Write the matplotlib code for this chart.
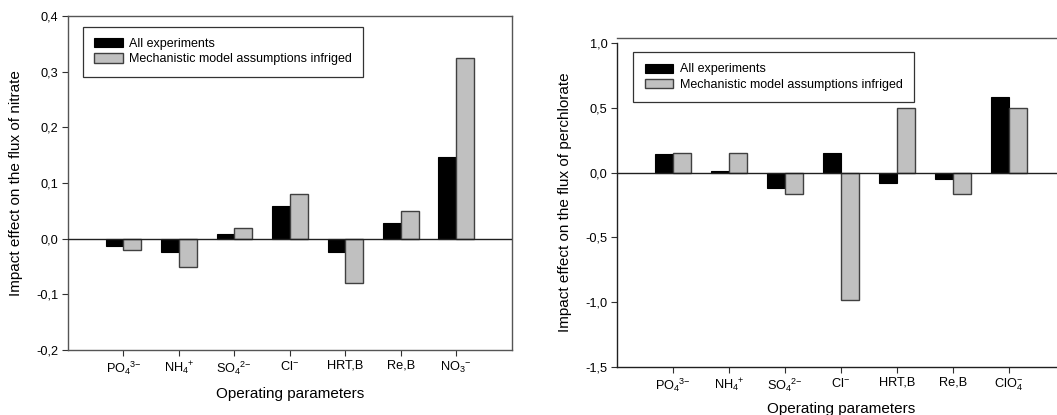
import matplotlib
matplotlib.use("Agg")
import matplotlib.pyplot as plt
import numpy as np
from matplotlib.ticker import FuncFormatter

plt.rcParams['font.family'] = ['Liberation Sans', 'DejaVu Sans']
plt.rcParams['mathtext.fontset'] = 'custom'
plt.rcParams['mathtext.rm'] = 'Liberation Sans'
plt.rcParams['mathtext.it'] = 'Liberation Sans:italic'
plt.rcParams['mathtext.bf'] = 'Liberation Sans:bold'

# ---- data ----
labels_nitrate = [r'$\mathregular{PO_4{}^{3{-}}}$', r'$\mathregular{NH_4{}^{+}}$', r'$\mathregular{SO_4{}^{2{-}}}$',
                  r'$\mathregular{Cl^{-}}$', 'HRT,B', 'Re,B', r'$\mathregular{NO_3{}^{-}}$']
labels_perchlorate = [r'$\mathregular{PO_4{}^{3{-}}}$', r'$\mathregular{NH_4{}^{+}}$', r'$\mathregular{SO_4{}^{2{-}}}$',
                      r'$\mathregular{Cl^{-}}$', 'HRT,B', 'Re,B', r'$\mathregular{ClO_4^{-}}$']
nitrate_all = [-0.014, -0.024, 0.008, 0.059, -0.024, 0.028, 0.147]
nitrate_mech = [-0.020, -0.050, 0.020, 0.080, -0.080, 0.050, 0.324]
perchlorate_all = [0.144, 0.015, -0.118, 0.149, -0.082, -0.049, 0.581]
perchlorate_mech = [0.154, 0.154, -0.167, -0.986, 0.496, -0.167, 0.496]
series_names = ['All experiments', 'Mechanistic model assumptions infriged']

fig = plt.figure(figsize=(10.57, 4.15), dpi=100)
W, H = 1057, 415

def comma_fmt(v, pos):
    s = f"{v:.1f}".replace('.', ',')
    if s == '-0,0':
        s = '0,0'
    return s

def draw(ax, labels, a, b, ylim, yticks, ylabel, legend_anchor, spine_color):
    x = np.arange(1, len(labels) + 1)
    w = 0.32
    ax.bar(x - w / 2, a, width=w, color='black', edgecolor='black', linewidth=0.8,
           label=series_names[0], zorder=3)
    ax.bar(x + w / 2, b, width=w, color='#c0c0c0', edgecolor='#404040', linewidth=1.0,
           label=series_names[1], zorder=3)
    ax.axhline(0, color='#202020', linewidth=1.0, zorder=4)
    ax.set_xlim(0, 8)
    ax.set_ylim(*ylim)
    ax.set_yticks(yticks)
    ax.yaxis.set_major_formatter(FuncFormatter(comma_fmt))
    ax.set_xticks(x)
    ax.set_xticklabels(labels)
    ax.tick_params(axis='both', direction='out', length=4, width=0.8, labelsize=9.2,
                   color='#303030', pad=3)
    ax.set_ylabel(ylabel, fontsize=11)
    ax.set_xlabel('Operating parameters', fontsize=11)
    for s in ax.spines.values():
        s.set_color(spine_color)
        s.set_linewidth(1.0)
    leg = ax.legend(loc='upper left', bbox_to_anchor=legend_anchor, borderaxespad=0,
                    fontsize=9, frameon=True, fancybox=False, edgecolor='black',
                    handlelength=2.3, handleheight=0.75, labelspacing=0.25,
                    borderpad=0.9, handletextpad=0.5)
    leg.get_frame().set_linewidth(0.9)
    leg.set_zorder(5)
    return ax

# left axes
l, r, t, btm = 68, 511.7, 16, 350
ax1 = fig.add_axes([l / W, (H - btm) / H, (r - l) / W, (btm - t) / H])
draw(ax1, labels_nitrate, nitrate_all, nitrate_mech, (-0.2, 0.4),
     [-0.2, -0.1, 0.0, 0.1, 0.2, 0.3, 0.4],
     'Impact effect on the flux of nitrate', (0.034, 0.967), '#555555')
ax1.yaxis.set_label_coords(-0.101, 0.5)
ax1.xaxis.set_label_coords(0.5, -0.11)

# right axes
l2, r2, t2, b2 = 617.4, 1064.6, 37.7, 367
ax2 = fig.add_axes([l2 / W, (H - b2) / H, (r2 - l2) / W, (b2 - t2) / H])
draw(ax2, labels_perchlorate, perchlorate_all, perchlorate_mech, (-1.5, 1.04),
     [-1.5, -1.0, -0.5, 0.0, 0.5, 1.0],
     'Impact effect on the flux of perchlorate', (0.036, 0.956), '#202020')
ax2.spines['left'].set_bounds(-1.5, 1.0)
ax2.spines['top'].set_color('#555555')
ax2.yaxis.set_label_coords(-0.1015, 0.5)
ax2.xaxis.set_label_coords(0.5, -0.105)

fig.savefig('out.png', dpi=100)
